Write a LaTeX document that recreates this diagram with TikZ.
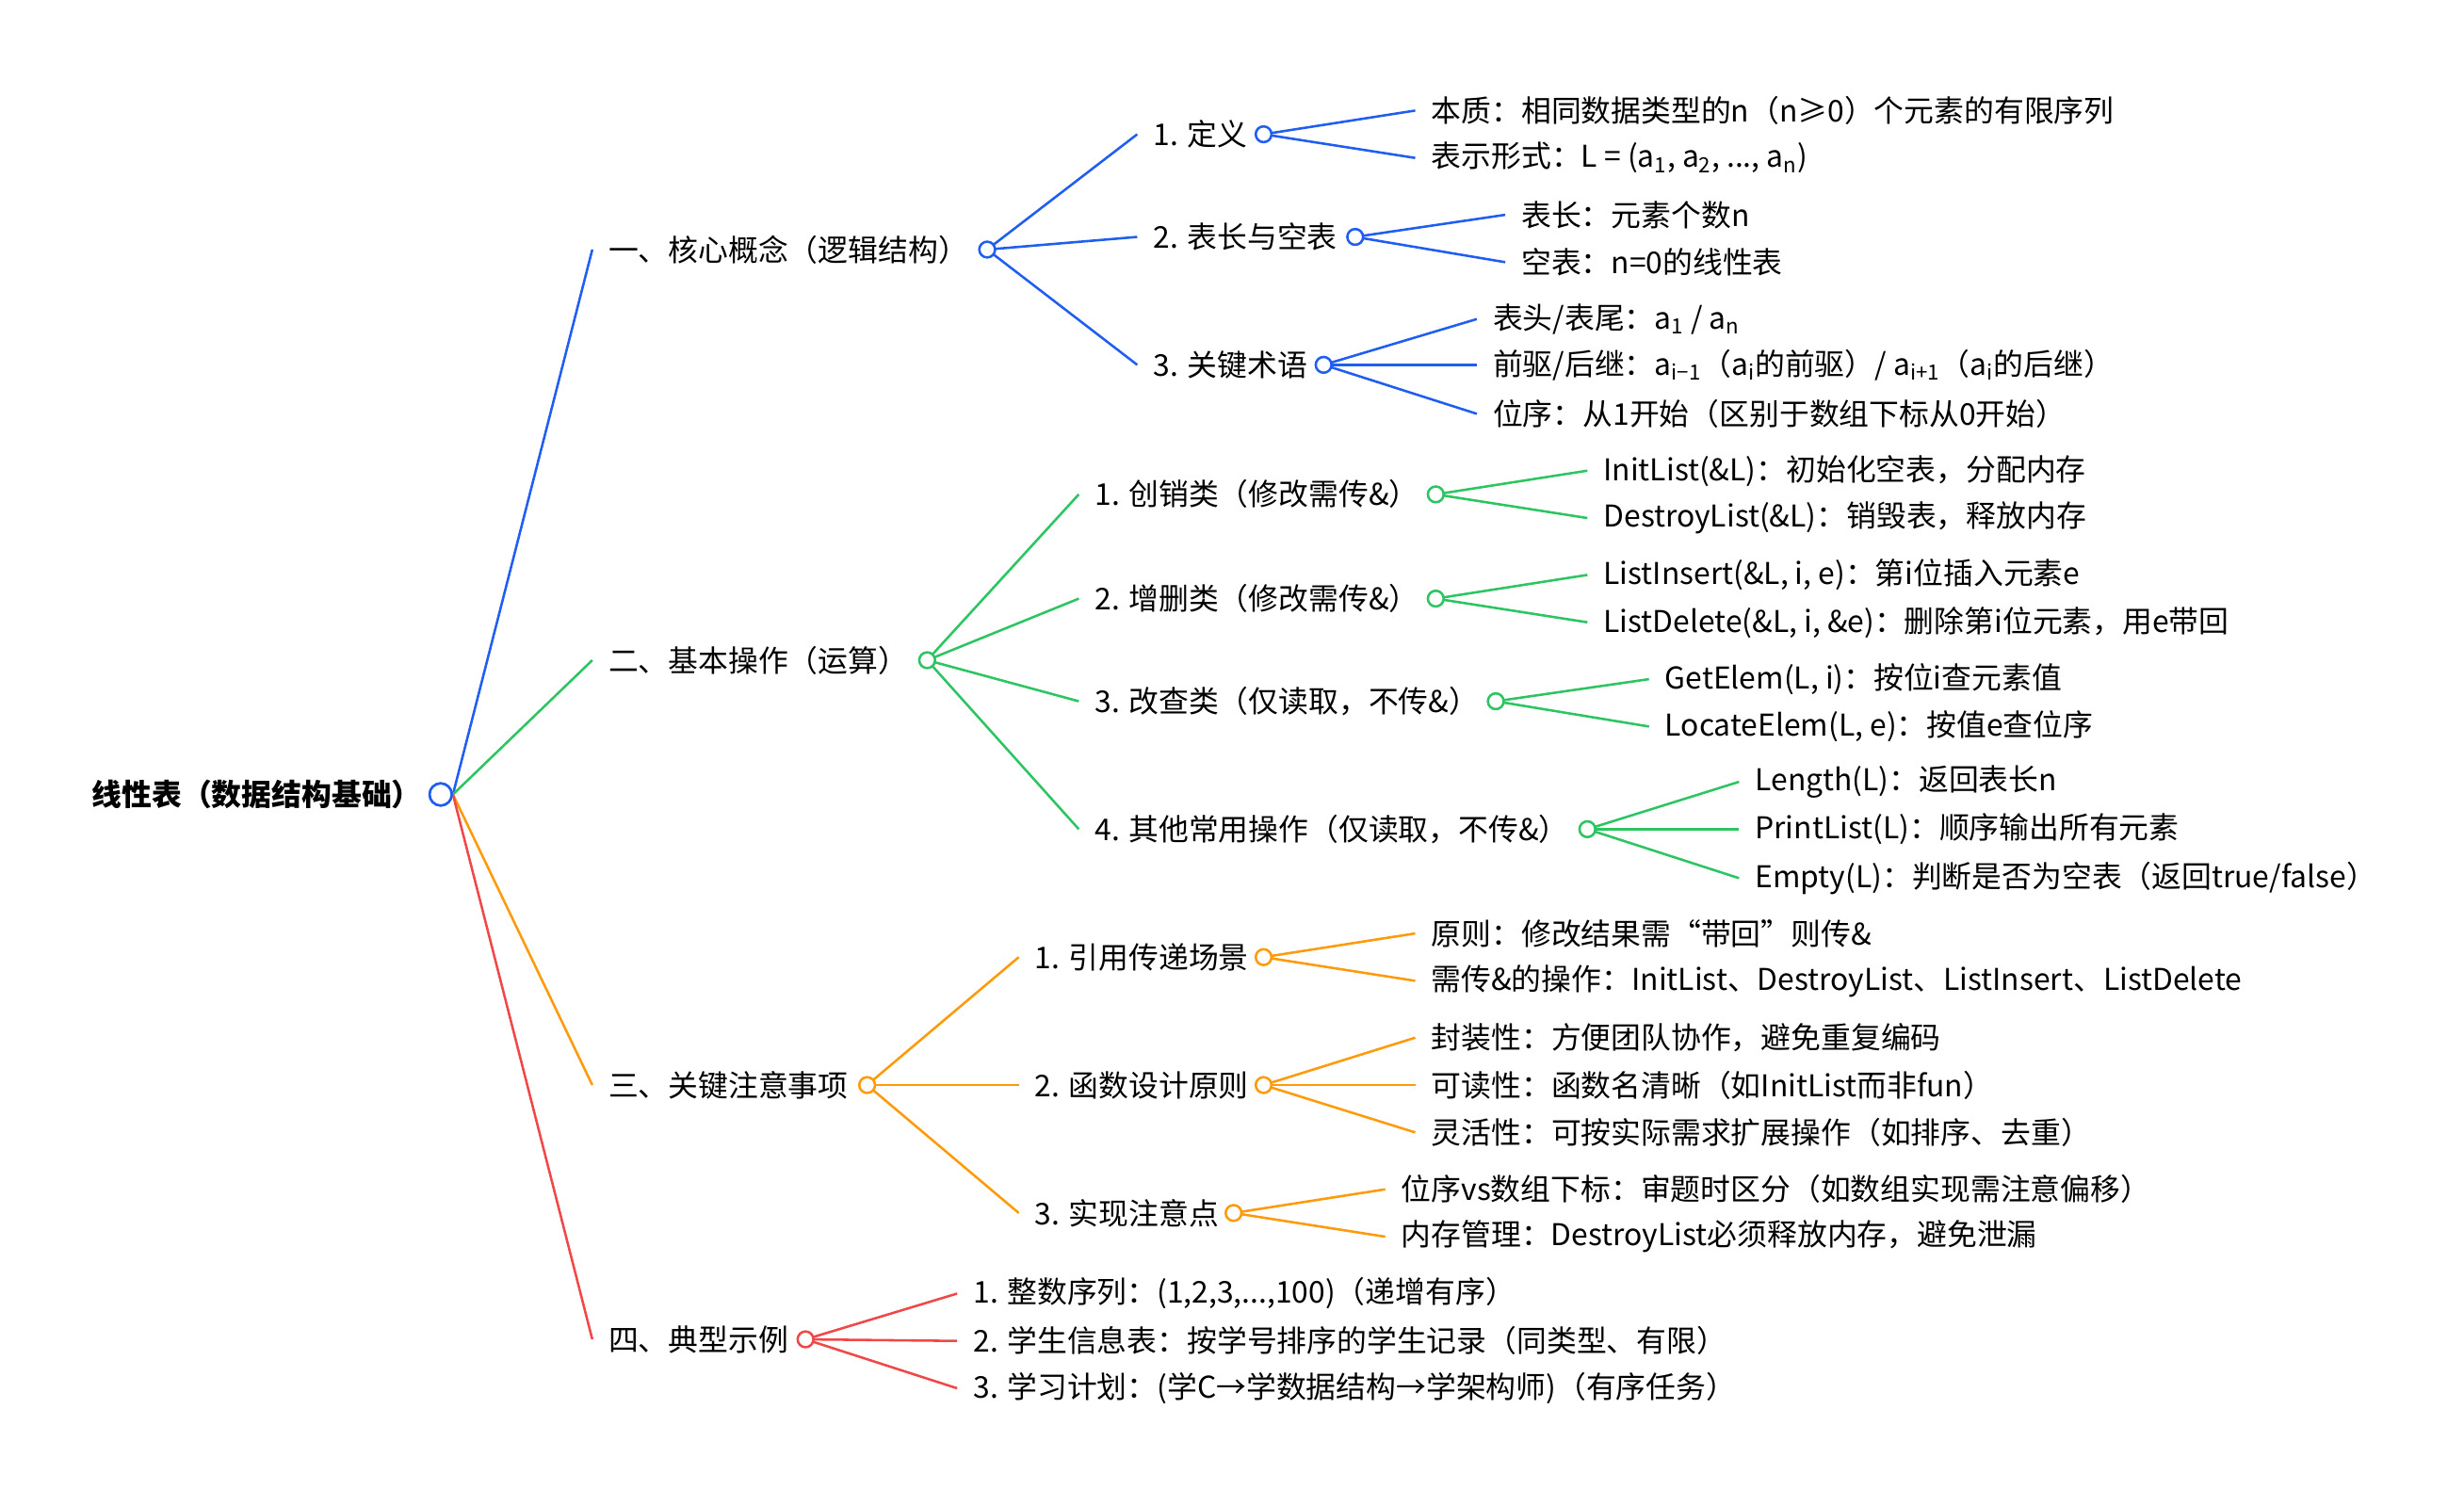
\documentclass[tikz,border=0pt]{standalone}
\usepackage{fontspec}
\setmainfont{Noto Sans CJK SC}
\usepackage{xcolor}
\usetikzlibrary{calc}
\definecolor{cblue}{HTML}{1F5EF0}
\definecolor{cgreen}{HTML}{2DC462}
\definecolor{corange}{HTML}{FF9A0A}
\definecolor{cred}{HTML}{F04848}
\tikzset{
  lbl/.style={anchor=west,inner sep=0pt,font=\fontsize{16.2}{19}\selectfont},
  dot/.style={circle,draw=#1,fill=white,line width=1.3pt,inner sep=0pt,minimum size=0.3cm},
  br/.style={draw=#1,line width=1.3pt,
    to path={.. controls ($(\tikztostart)!0.5!(\tikztotarget)$ |- \tikztostart)
      and ($(\tikztostart)!0.5!(\tikztotarget)$ |- \tikztotarget) .. (\tikztotarget)}}
}
\begin{document}
\begin{tikzpicture}[x=0.03cm,y=-0.03cm]
    \useasboundingbox (0,0) rectangle (1560,943);
    % root
    \node[lbl,font=\fontsize{16.2}{19}\selectfont\bfseries] (root) at (58,503) {线性表（数据结构基础）};
    \node[dot=cblue,minimum size=0.42cm] (r) at (279,503) {};
    % level one
    \node[lbl] (a) at (385,158) {一、核心概念（逻辑结构）};
    \node[lbl] (b) at (385,418) {二、基本操作（运算）};
    \node[lbl] (c) at (385,687) {三、关键注意事项};
    \node[lbl] (d) at (385,848) {四、典型示例};
    \draw[br=cblue] (r.east) to ([xshift=-0.3cm]a.west);
    \draw[br=cgreen] (r.east) to ([xshift=-0.3cm]b.west);
    \draw[br=corange] (r.east) to ([xshift=-0.3cm]c.west);
    \draw[br=cred] (r.east) to ([xshift=-0.3cm]d.west);
    % blue branch
    \node[lbl] (a1) at (730,85) {1. 定义};
    \node[lbl] (a2) at (730,150) {2. 表长与空表};
    \node[lbl] (a3) at (730,231) {3. 关键术语};
    \node[lbl] (a11) at (906,70) {本质：相同数据类型的n（n≥0）个元素的有限序列};
    \node[lbl] (a12) at (906,100) {表示形式：L = (a\textsubscript{1}, a\textsubscript{2}, ..., a\textsubscript{n})};
    \node[lbl] (a21) at (963,136) {表长：元素个数n};
    \node[lbl] (a22) at (963,166) {空表：n=0的线性表};
    \node[lbl] (a31) at (945,202) {表头/表尾：a\textsubscript{1} / a\textsubscript{n}};
    \node[lbl] (a32) at (945,231) {前驱/后继：a\textsubscript{i−1}（a\textsubscript{i}的前驱）/ a\textsubscript{i+1}（a\textsubscript{i}的后继）};
    \node[lbl] (a33) at (945,262) {位序：从1开始（区别于数组下标从0开始）};
    \foreach \n in {a1,a2,a3}
      \draw[br=cblue] (625,158) to ([xshift=-0.3cm]\n.west);
    \foreach \q/\x/\y in {a11/800/85,a12/800/85,a21/858/150,a22/858/150,a31/838/231,a32/838/231,a33/838/231}
      \draw[br=cblue] (\x,\y) to ([xshift=-0.3cm]\q.west);
    \node[dot=cblue] (ad) at (625,158) {};
    \node[dot=cblue] (a1d) at (800,85) {};
    \node[dot=cblue] (a2d) at (858,150) {};
    \node[dot=cblue] (a3d) at (838,231) {};
    % green branch
    \node[lbl] (b1) at (693,313) {1. 创销类（修改需传\&）};
    \node[lbl] (b2) at (693,379) {2. 增删类（修改需传\&）};
    \node[lbl] (b3) at (693,444) {3. 改查类（仅读取，不传\&）};
    \node[lbl] (b4) at (693,525) {4. 其他常用操作（仅读取，不传\&）};
    \node[lbl] (b11) at (1015,298) {InitList(\&L)：初始化空表，分配内存};
    \node[lbl] (b12) at (1015,328) {DestroyList(\&L)：销毁表，释放内存};
    \node[lbl] (b21) at (1015,364) {ListInsert(\&L, i, e)：第i位插入元素e};
    \node[lbl] (b22) at (1015,394) {ListDelete(\&L, i, \&e)：删除第i位元素，用e带回};
    \node[lbl] (b31) at (1054,430) {GetElem(L, i)：按位i查元素值};
    \node[lbl] (b32) at (1054,460) {LocateElem(L, e)：按值e查位序};
    \node[lbl] (b41) at (1111,495) {Length(L)：返回表长n};
    \node[lbl] (b42) at (1111,525) {PrintList(L)：顺序输出所有元素};
    \node[lbl] (b43) at (1111,556) {Empty(L)：判断是否为空表（返回true/false）};
    \foreach \n in {b1,b2,b3,b4}
      \draw[br=cgreen] (587,418) to ([xshift=-0.3cm]\n.west);
    \foreach \q/\x/\y in {b11/909/313,b12/909/313,b21/909/379,b22/909/379,b31/947/444,b32/947/444,b41/1005/525,b42/1005/525,b43/1005/525}
      \draw[br=cgreen] (\x,\y) to ([xshift=-0.3cm]\q.west);
    \node[dot=cgreen] (bd) at (587,418) {};
    \node[dot=cgreen] (b1d) at (909,313) {};
    \node[dot=cgreen] (b2d) at (909,379) {};
    \node[dot=cgreen] (b3d) at (947,444) {};
    \node[dot=cgreen] (b4d) at (1005,525) {};
    % orange branch
    \node[lbl] (c1) at (655,606) {1. 引用传递场景};
    \node[lbl] (c2) at (655,687) {2. 函数设计原则};
    \node[lbl] (c3) at (655,768) {3. 实现注意点};
    \node[lbl] (c11) at (906,591) {原则：修改结果需“带回”则传\&};
    \node[lbl] (c12) at (906,621) {需传\&的操作：InitList、DestroyList、ListInsert、ListDelete};
    \node[lbl] (c21) at (906,657) {封装性：方便团队协作，避免重复编码};
    \node[lbl] (c22) at (906,687) {可读性：函数名清晰（如InitList而非fun）};
    \node[lbl] (c23) at (906,717) {灵活性：可按实际需求扩展操作（如排序、去重）};
    \node[lbl] (c31) at (887,753) {位序vs数组下标：审题时区分（如数组实现需注意偏移）};
    \node[lbl] (c32) at (887,783) {内存管理：DestroyList必须释放内存，避免泄漏};
    \foreach \n in {c1,c2,c3}
      \draw[br=corange] (549,687) to ([xshift=-0.3cm]\n.west);
    \foreach \q/\x/\y in {c11/800/606,c12/800/606,c21/800/687,c22/800/687,c23/800/687,c31/781/768,c32/781/768}
      \draw[br=corange] (\x,\y) to ([xshift=-0.3cm]\q.west);
    \node[dot=corange] (cd) at (549,687) {};
    \node[dot=corange] (c1d) at (800,606) {};
    \node[dot=corange] (c2d) at (800,687) {};
    \node[dot=corange] (c3d) at (781,768) {};
    % red branch
    \node[lbl] (d1) at (616,819) {1. 整数序列：(1,2,3,...,100)（递增有序）};
    \node[lbl] (d2) at (616,849) {2. 学生信息表：按学号排序的学生记录（同类型、有限）};
    \node[lbl] (d3) at (616,879) {3. 学习计划：(学C→学数据结构→学架构师)（有序任务）};
    \foreach \n in {d1,d2,d3}
      \draw[br=cred] (510,848) to ([xshift=-0.3cm]\n.west);
    \node[dot=cred] (dd) at (510,848) {};
    \node[dot=cblue,minimum size=0.42cm] at (279,503) {};
\end{tikzpicture}
\end{document}
